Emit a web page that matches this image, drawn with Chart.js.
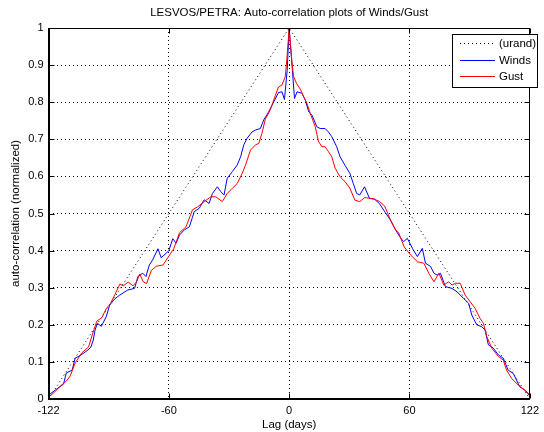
<!DOCTYPE html>
<html>
<head>
<meta charset="utf-8">
<script src="https://cdn.jsdelivr.net/npm/chart.js@4.4.0/dist/chart.umd.min.js"></script>
<style>
  html, body { margin: 0; padding: 0; background: #fff; }
</style>
</head>
<body>
<canvas id="chart" width="544" height="432"></canvas>
<script>
// lag (days) / normalized auto-correlation
const urandLag = [-122, 0, 122];
const urandVal = [0, 1, 0];

const windsLag = [
  -122, -118.6, -114.4, -113, -110, -108.5, -106, -102, -100.5, -99.3,
  -98.4, -97.2, -95.2, -92.7, -91, -88.4, -85.9, -81.8, -78.4, -77.6,
  -76.7, -74.2, -72.6, -70.9, -69.2, -66.5, -64.9, -62.5, -61, -59,
  -57.3, -55.6, -53.1, -50.6, -49, -48.1, -45.6, -43.1, -40.6, -38.9,
  -36.4, -34.7, -33, -31.4, -28.8, -26.3, -24.6, -23, -21.3, -18.8,
  -17.1, -14.6, -12.9, -10.4, -7.9, -5.4, -3.6, -2.4, -1, 0,
  1.5, 2.7, 4, 6.5, 8.2, 9.9, 11.6, 14, 15.7, 18.2,
  19.9, 21.6, 24.1, 25.8, 28.3, 30.8, 32.5, 34.2, 35.8, 38.2,
  40.7, 43.2, 45.7, 48.7, 51.4, 53.9, 56.4, 58, 59.9, 62.5,
  65, 67.5, 69.1, 71.7, 73.4, 75, 76.7, 79.2, 82.6, 85.1,
  88.4, 91, 92.6, 95.1, 97.6, 99.3, 101, 103.5, 106, 108.5,
  111, 113.6, 116.9, 119.4, 122
];
const windsVal = [
  0.010, 0.024, 0.040, 0.070, 0.078, 0.110, 0.117, 0.132, 0.140, 0.159,
  0.186, 0.204, 0.196, 0.222, 0.253, 0.270, 0.280, 0.294, 0.298, 0.312,
  0.330, 0.339, 0.330, 0.361, 0.375, 0.405, 0.381, 0.392, 0.400, 0.432,
  0.420, 0.442, 0.456, 0.464, 0.490, 0.505, 0.514, 0.537, 0.527, 0.554,
  0.572, 0.559, 0.550, 0.595, 0.613, 0.631, 0.653, 0.685, 0.703, 0.720,
  0.725, 0.729, 0.752, 0.774, 0.800, 0.826, 0.828, 0.807, 0.886, 1.000,
  0.896, 0.810, 0.828, 0.824, 0.806, 0.774, 0.765, 0.734, 0.729, 0.729,
  0.720, 0.707, 0.680, 0.653, 0.630, 0.608, 0.581, 0.554, 0.550, 0.572,
  0.541, 0.539, 0.527, 0.503, 0.482, 0.456, 0.435, 0.424, 0.433, 0.406,
  0.384, 0.406, 0.366, 0.357, 0.339, 0.334, 0.339, 0.303, 0.298, 0.289,
  0.271, 0.258, 0.226, 0.200, 0.195, 0.186, 0.146, 0.137, 0.119, 0.110,
  0.078, 0.069, 0.033, 0.024, 0.011
];

const gustLag = [
  -122, -119, -116, -113, -111, -108.4, -105, -101.7, -100, -97.5,
  -95, -92.5, -90.8, -88.3, -85.8, -84.1, -81.6, -79.1, -77.4, -75.7,
  -74, -72.3, -69.8, -67.3, -64, -61.5, -58.5, -55.6, -52.3, -49,
  -46.4, -43.1, -39.7, -37.2, -33.9, -31.4, -28.8, -26.3, -23.8, -22.1,
  -19.6, -17.1, -15.4, -13.8, -12.1, -9.5, -7, -5.4, -3.7, -2,
  -1.2, 0, 1.3, 2.2, 3.8, 5.7, 7.3, 9, 10.7, 13.2,
  14.9, 16.6, 18.2, 19.9, 21.6, 23.3, 25.8, 28.3, 30.8, 33.3,
  35.8, 38.3, 40.9, 43.4, 45.9, 48.4, 50, 51.4, 53.9, 55.5,
  58.3, 61.6, 65, 68.3, 70.9, 73.4, 75.9, 78.4, 80.9, 82.6,
  84.2, 86.7, 89.2, 91.8, 94.3, 96.8, 98.5, 100.2, 102.7, 106,
  108.5, 110.2, 112.7, 116, 119.4, 122
];
const gustVal = [
  0.005, 0.018, 0.035, 0.048, 0.062, 0.098, 0.125, 0.140, 0.170, 0.210,
  0.219, 0.246, 0.255, 0.282, 0.310, 0.305, 0.315, 0.305, 0.316, 0.337,
  0.316, 0.311, 0.347, 0.358, 0.361, 0.381, 0.405, 0.448, 0.464, 0.510,
  0.518, 0.532, 0.545, 0.545, 0.532, 0.554, 0.568, 0.581, 0.608, 0.631,
  0.671, 0.685, 0.689, 0.716, 0.754, 0.780, 0.818, 0.841, 0.846, 0.868,
  0.914, 1.000, 0.914, 0.870, 0.850, 0.835, 0.815, 0.797, 0.770, 0.734,
  0.694, 0.680, 0.680, 0.667, 0.653, 0.622, 0.599, 0.586, 0.568, 0.536,
  0.532, 0.543, 0.541, 0.538, 0.532, 0.520, 0.500, 0.482, 0.456, 0.448,
  0.410, 0.388, 0.370, 0.366, 0.338, 0.316, 0.339, 0.307, 0.316, 0.307,
  0.312, 0.312, 0.280, 0.262, 0.244, 0.217, 0.204, 0.168, 0.137, 0.115,
  0.105, 0.078, 0.056, 0.038, 0.024, 0.008
];

const xTicks = [-122, -61, 0, 61, 122];
const xTickLabels = ["-122", "-60", "0", "60", "122"];
const yTicks = [0, 0.1, 0.2, 0.3, 0.4, 0.5, 0.6, 0.7, 0.8, 0.9, 1];
const yTickLabels = ["0", "0.1", "0.2", "0.3", "0.4", "0.5", "0.6", "0.7", "0.8", "0.9", "1"];

const FONT = "'Liberation Sans', Arial, Helvetica, sans-serif";
const toPoints = (xs, ys) => xs.map((x, i) => ({ x, y: ys[i] }));

// matlab style box with inward ticks, plus the boxed legend
const axesBox = {
  id: "axesBox",
  afterDraw(chart) {
    const { ctx, chartArea: a, scales } = chart;
    const L = Math.round(a.left) + 0.5, R = Math.round(a.right) - 0.5;
    const T = Math.round(a.top) + 0.5, B = Math.round(a.bottom) - 0.5;
    ctx.save();
    ctx.strokeStyle = "#000";
    ctx.lineWidth = 1;
    ctx.strokeRect(L, T, R - L, B - T);
    ctx.beginPath();
    xTicks.forEach((v) => {
      const x = Math.round(scales.x.getPixelForValue(v)) + 0.5;
      ctx.moveTo(x, B); ctx.lineTo(x, B - 5);
      ctx.moveTo(x, T); ctx.lineTo(x, T + 5);
    });
    yTicks.forEach((v) => {
      const y = Math.round(scales.y.getPixelForValue(v)) + 0.5;
      ctx.moveTo(L, y); ctx.lineTo(L + 5, y);
      ctx.moveTo(R, y); ctx.lineTo(R - 5, y);
    });
    ctx.stroke();

    // legend
    ctx.fillStyle = "#fff";
    ctx.fillRect(452.5, 34.5, 85, 53);
    ctx.strokeRect(452.5, 34.5, 85, 53);
    const rows = [43.5, 60.5, 76.5];
    chart.data.datasets.forEach((ds, i) => {
      const y = rows[i];
      ctx.beginPath();
      ctx.strokeStyle = ds.borderColor;
      ctx.setLineDash(ds.borderDash || []);
      ctx.moveTo(460, y); ctx.lineTo(495, y);
      ctx.stroke();
      ctx.setLineDash([]);
      ctx.fillStyle = "#000";
      ctx.font = "11.5px " + FONT;
      ctx.textBaseline = "middle";
      ctx.textAlign = "left";
      ctx.fillText(ds.label, 499, y + 0.5);
    });
    ctx.restore();
  }
};

new Chart(document.getElementById("chart"), {
  type: "line",
  data: {
    datasets: [
      {
        label: "(urand)", data: toPoints(urandLag, urandVal),
        borderColor: "#000", borderWidth: 1, borderDash: [1, 3], order: 2
      },
      {
        label: "Winds", data: toPoints(windsLag, windsVal),
        borderColor: "#0000ff", borderWidth: 1, order: 1
      },
      {
        label: "Gust", data: toPoints(gustLag, gustVal),
        borderColor: "#ff0000", borderWidth: 1, order: 0
      }
    ]
  },
  options: {
    responsive: false,
    animation: false,
    devicePixelRatio: 1,
    layout: { padding: { left: 0, right: 9, top: 0, bottom: 0 } },
    elements: { point: { radius: 0 }, line: { tension: 0, fill: false } },
    plugins: {
      legend: { display: false },
      tooltip: { enabled: false },
      title: {
        display: true,
        fullSize: false,
        text: "LESVOS/PETRA: Auto-correlation plots of Winds/Gust",
        color: "#000",
        font: { family: FONT, size: 11.5, weight: "normal" },
        padding: { top: 5.5, bottom: 8.7 }
      }
    },
    scales: {
      x: {
        type: "linear",
        min: -122, max: 122,
        afterBuildTicks: (s) => { s.ticks = xTicks.map((v) => ({ value: v })); },
        afterFit: (s) => { s.height = 33; },
        ticks: {
          autoSkip: false, maxRotation: 0, padding: 5, color: "#000",
          font: { family: FONT, size: 11 },
          callback: (v, i) => xTickLabels[i]
        },
        grid: { color: "#000", lineWidth: 1, drawTicks: false },
        border: { display: true, color: "#000", width: 1, dash: [1, 3] },
        title: {
          display: true, text: "Lag (days)", color: "#000",
          font: { family: FONT, size: 11.5 }, padding: { top: 0, bottom: 0.3 }
        }
      },
      y: {
        min: 0, max: 1,
        afterBuildTicks: (s) => { s.ticks = yTicks.map((v) => ({ value: v })); },
        afterFit: (s) => { s.width = 48.5; },
        ticks: {
          autoSkip: false, padding: 5, color: "#000",
          font: { family: FONT, size: 11 },
          callback: (v, i) => yTickLabels[i]
        },
        grid: { color: "#000", lineWidth: 1, drawTicks: false },
        border: { display: true, color: "#000", width: 1, dash: [1, 3] },
        title: {
          display: true, text: "auto-correlation (normalized)", color: "#000",
          font: { family: FONT, size: 11.5 }, padding: { top: 8.7, bottom: 0 }
        }
      }
    }
  },
  plugins: [axesBox]
});
</script>
</body>
</html>
